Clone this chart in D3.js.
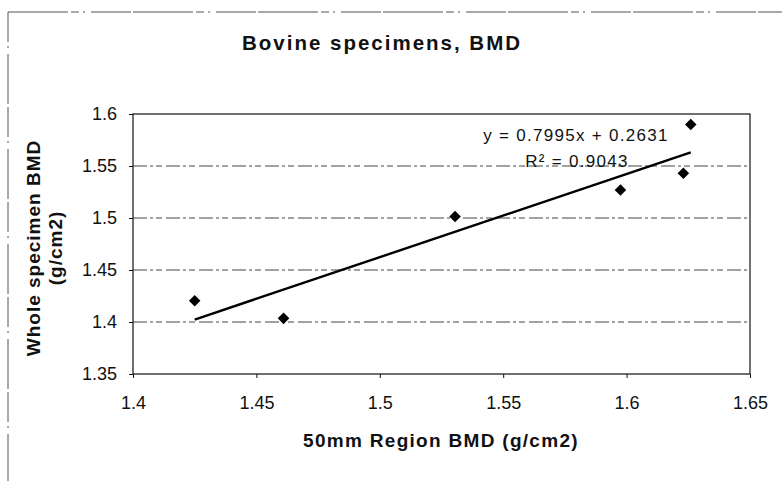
<!DOCTYPE html>
<html>
<head>
<meta charset="utf-8">
<script src="https://cdn.jsdelivr.net/npm/d3@7"></script>
<style>
  body { margin: 0; background: #fff; }
  svg { font-family: "Liberation Sans", Arial, sans-serif; }
</style>
</head>
<body>
<div id="chart"></div>
<script>
// data
const regionBMD = [1.425, 1.461, 1.5305, 1.5975, 1.623, 1.626];
const wholeBMD = [1.4205, 1.4035, 1.5015, 1.527, 1.543, 1.590];
const xTicks = [1.4, 1.45, 1.5, 1.55, 1.6, 1.65];
const yTicks = [1.35, 1.4, 1.45, 1.5, 1.55, 1.6];
const slope = 0.7995;
const intercept = 0.2631;
const eqLabel = "y = 0.7995x + 0.2631";
const r2Label = "R² = 0.9043";

const width = 782, height = 481;
const margin = { top: 114, right: 32, bottom: 107, left: 133 };

const svg = d3.select("#chart").append("svg")
  .attr("width", width).attr("height", height);

// scanned outer frame (top + left edges)
svg.append("line").attr("x1", 8).attr("x2", width).attr("y1", 12).attr("y2", 12)
  .attr("stroke", "#555").attr("stroke-width", 1).attr("stroke-dasharray", "60,3,8,4,2,6,40,2");
svg.append("line").attr("x1", 8).attr("x2", 8).attr("y1", 12).attr("y2", height)
  .attr("stroke", "#555").attr("stroke-width", 1).attr("stroke-dasharray", "30,4,2,6,50,3");

const x = d3.scaleLinear().domain([1.4, 1.65]).range([margin.left, width - margin.right]);
const y = d3.scaleLinear().domain([1.35, 1.6]).range([height - margin.bottom, margin.top]);

// gridlines
svg.append("g").selectAll("line")
  .data(yTicks.filter(d => d > 1.35 && d < 1.6))
  .join("line")
  .attr("x1", x(1.4)).attr("x2", x(1.65))
  .attr("y1", d => y(d)).attr("y2", d => y(d))
  .attr("stroke", "#444").attr("stroke-width", 1)
  .attr("stroke-dasharray", "14,3,3,3,6,4");

// plot frame
svg.append("rect")
  .attr("x", x(1.4)).attr("y", y(1.6))
  .attr("width", x(1.65) - x(1.4)).attr("height", y(1.35) - y(1.6))
  .attr("fill", "none").attr("stroke", "#111").attr("stroke-width", 1.2);

// axes
const xAxis = d3.axisBottom(x).tickValues(xTicks).tickFormat(d => d).tickSize(4).tickPadding(18);
const yAxis = d3.axisLeft(y).tickValues(yTicks).tickFormat(d => d).tickSize(4).tickPadding(12);

const gx = svg.append("g").attr("transform", `translate(0,${y(1.35)})`).call(xAxis);
const gy = svg.append("g").attr("transform", `translate(${x(1.4)},0)`).call(yAxis);
[gx, gy].forEach(g => {
  g.select(".domain").remove();
  g.selectAll(".tick line").attr("stroke", "#111");
  g.selectAll(".tick text").attr("font-size", 18).attr("fill", "#111")
    .attr("font-family", "Liberation Sans, Arial, sans-serif");
});

// trendline
const xs = d3.extent(regionBMD);
svg.append("line")
  .attr("x1", x(xs[0])).attr("y1", y(slope * xs[0] + intercept))
  .attr("x2", x(xs[1])).attr("y2", y(slope * xs[1] + intercept))
  .attr("stroke", "#000").attr("stroke-width", 2.4);

// points
svg.append("g").selectAll("path")
  .data(regionBMD.map((d, i) => [d, wholeBMD[i]]))
  .join("path")
  .attr("d", d3.symbol(d3.symbolDiamond2, 85))
  .attr("transform", d => `translate(${x(d[0])},${y(d[1])})`)
  .attr("fill", "#000");

// equation labels
svg.append("text").attr("x", 576).attr("y", 141).attr("text-anchor", "middle")
  .attr("font-size", 17).attr("letter-spacing", 1.3).attr("fill", "#111").text(eqLabel);
svg.append("text").attr("x", 577).attr("y", 167).attr("text-anchor", "middle")
  .attr("font-size", 17).attr("letter-spacing", 1.3).attr("fill", "#111").text(r2Label);

// titles
svg.append("text").attr("x", 382).attr("y", 50).attr("text-anchor", "middle")
  .attr("font-size", 20.5).attr("font-weight", "bold").attr("letter-spacing", 2).attr("fill", "#111")
  .text("Bovine specimens, BMD");

svg.append("text").attr("x", 441).attr("y", 447).attr("text-anchor", "middle")
  .attr("font-size", 19).attr("font-weight", "bold").attr("letter-spacing", 1.3).attr("fill", "#111")
  .text("50mm Region BMD (g/cm2)");

const yTitle = svg.append("text")
  .attr("transform", "translate(40,248) rotate(-90)")
  .attr("text-anchor", "middle")
  .attr("font-size", 19).attr("font-weight", "bold").attr("letter-spacing", 1).attr("fill", "#111");
yTitle.append("tspan").attr("x", 0).attr("dy", 0).text("Whole specimen BMD");
yTitle.append("tspan").attr("x", 0).attr("dy", 22).text("(g/cm2)");
</script>
</body>
</html>
